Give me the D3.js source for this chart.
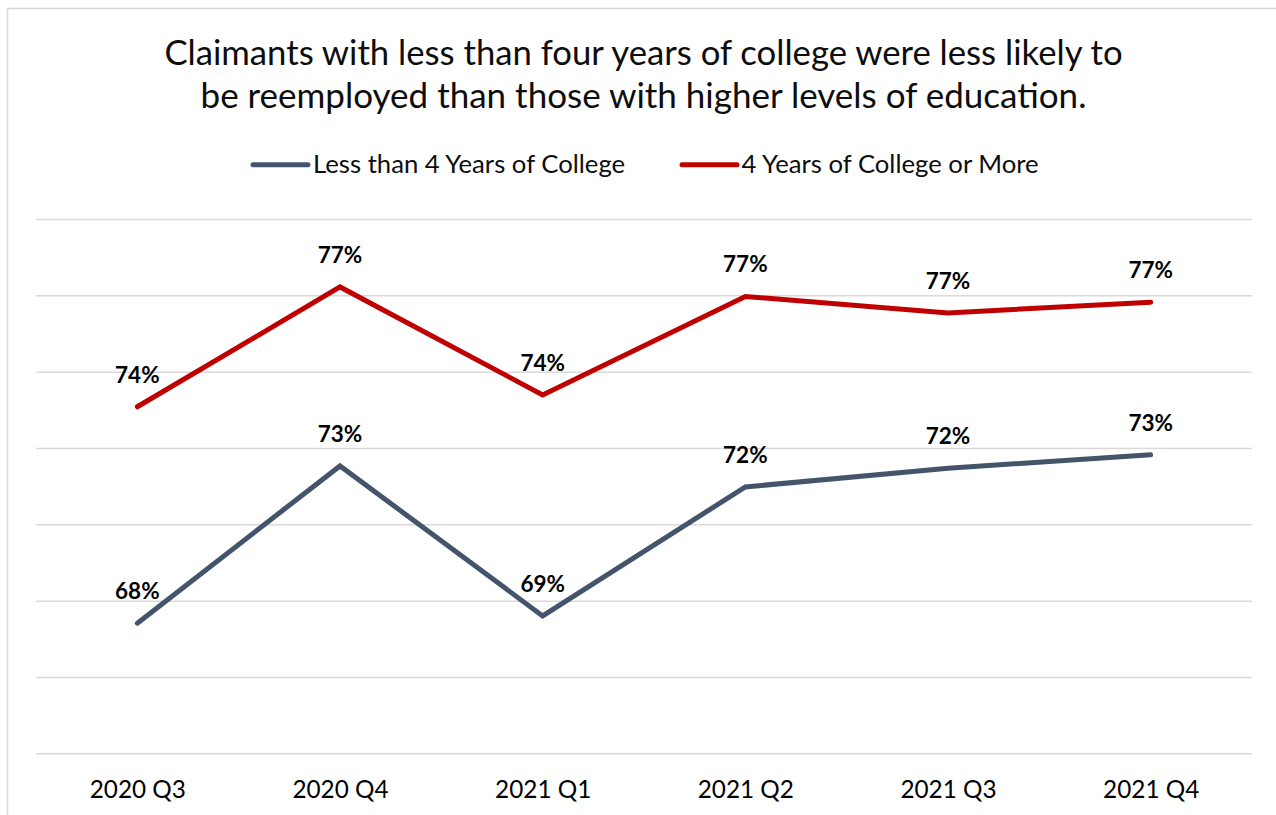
<!DOCTYPE html>
<html>
<head>
<meta charset="utf-8">
<script src="https://cdn.jsdelivr.net/npm/d3@7"></script>
<style>
  html, body { margin: 0; padding: 0; background: #fff; }
  svg { display: block; font-family: Lato, "Open Sans", sans-serif; }
</style>
</head>
<body>
<svg id="chart" width="1276" height="815"></svg>
<script>
// Reemployment rate by education level, quarterly
const categories = ["2020 Q3", "2020 Q4", "2021 Q1", "2021 Q2", "2021 Q3", "2021 Q4"];
const lessThanFourYears = [68.41, 72.53, 68.60, 71.98, 72.47, 72.82];
const fourYearsOrMore = [74.08, 77.22, 74.39, 76.97, 76.54, 76.82];
const gridValues = [65, 67, 69, 71, 73, 75, 77, 79];
const seriesNames = ["Less than 4 Years of College", "4 Years of College or More"];
const titleLines = [
  "Claimants with less than four years of college were less likely to",
  "be reemployed than those with higher levels of education."
];

const series = [
  { name: seriesNames[0], values: lessThanFourYears, color: "#44546A" },
  { name: seriesNames[1], values: fourYearsOrMore, color: "#C00000" }
];

const svg = d3.select("#chart");
const W = 1276, H = 815;
const plot = { left: 36, right: 1252, top: 219, bottom: 753.3 };

// chart frame
svg.append("rect")
  .attr("x", 7.5).attr("y", 8.5)
  .attr("width", W + 20).attr("height", H + 20)
  .attr("fill", "#fff")
  .attr("stroke", "#d9d9d9").attr("stroke-width", 1.5);

const x = d3.scalePoint().domain(categories).range([plot.left, plot.right]).padding(0.5);
const y = d3.scaleLinear().domain([65, 79]).range([plot.bottom, plot.top]);

// horizontal gridlines
const grid = svg.append("g")
  .attr("transform", `translate(${plot.left},0)`)
  .call(d3.axisLeft(y).tickValues(gridValues).tickSize(-(plot.right - plot.left)).tickFormat(""));
grid.select(".domain").remove();
grid.selectAll(".tick line").attr("stroke", "#d9d9d9").attr("stroke-width", 1.5);

// category axis
const xAxis = svg.append("g")
  .attr("transform", `translate(0,${plot.bottom})`)
  .call(d3.axisBottom(x).tickSize(0));
xAxis.select(".domain").remove();
xAxis.selectAll(".tick text")
  .attr("y", 45).attr("dy", 0)
  .attr("fill", "#000")
  .style("font-size", "24.3px")
  .style("font-family", "Lato, sans-serif");

// title
const titleSizes = ["34.7px", "35px"];
svg.append("text")
  .attr("x", 643.5).attr("y", 65)
  .attr("text-anchor", "middle")
  .attr("fill", "#0d0d0d")
  .selectAll("tspan").data(titleLines).join("tspan")
  .attr("x", 643.5)
  .attr("dy", (d, i) => i === 0 ? 0 : 43)
  .style("font-size", (d, i) => titleSizes[i])
  .text(d => d);

// legend
const legendPos = [{ x0: 253, x1: 308, tx: 313 }, { x0: 682, x1: 737, tx: 741.5 }];
const legend = svg.append("g");
series.forEach((s, i) => {
  const p = legendPos[i];
  legend.append("line")
    .attr("x1", p.x0).attr("x2", p.x1)
    .attr("y1", 164.7).attr("y2", 164.7)
    .attr("stroke", s.color).attr("stroke-width", 5)
    .attr("stroke-linecap", "round");
  legend.append("text")
    .attr("x", p.tx).attr("y", 173)
    .style("font-size", "25.7px")
    .attr("fill", "#0d0d0d")
    .text(s.name);
});

// series lines and value labels
const line = d3.line()
  .x((d, i) => x(categories[i]))
  .y(d => y(d));

const fmt = v => Math.round(v) + "%";

series.forEach(s => {
  svg.append("path")
    .datum(s.values)
    .attr("d", line)
    .attr("fill", "none")
    .attr("stroke", s.color)
    .attr("stroke-width", 5)
    .attr("stroke-linecap", "round")
    .attr("stroke-linejoin", "miter");

  svg.append("g").selectAll("text")
    .data(s.values).join("text")
    .attr("x", (d, i) => x(categories[i]))
    .attr("y", d => y(d) - 24)
    .attr("text-anchor", "middle")
    .style("font-size", "22.5px")
    .style("font-weight", "bold")
    .attr("fill", "#000")
    .text(fmt);
});
</script>
</body>
</html>
